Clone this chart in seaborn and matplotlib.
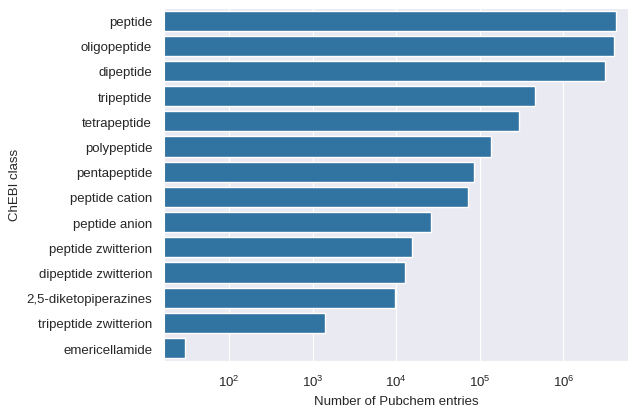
import matplotlib
matplotlib.use("Agg")
import matplotlib.pyplot as plt
import seaborn as sns
import pandas as pd

classes = ["peptide", "oligopeptide", "dipeptide", "tripeptide", "tetrapeptide",
           "polypeptide", "pentapeptide", "peptide cation", "peptide anion",
           "peptide zwitterion", "dipeptide zwitterion", "2,5-diketopiperazines",
           "tripeptide zwitterion", "emericellamide"]
counts = [4250000, 4020000, 3110000, 456000, 293000, 136000, 85000, 72400,
          26300, 15600, 12600, 9600, 1420, 30]

sns.set_style("darkgrid")
plt.rcParams['font.family'] = ['Liberation Sans', 'DejaVu Sans']
plt.rcParams['font.size'] = 9.5
plt.rcParams['axes.labelsize'] = 9.5
plt.rcParams['xtick.labelsize'] = 9.5
plt.rcParams['ytick.labelsize'] = 9.5
plt.rcParams['xtick.major.pad'] = 6.0
plt.rcParams['ytick.major.pad'] = 5.0

df = pd.DataFrame({"ChEBI class": classes, "Number of Pubchem entries": counts})

fig = plt.figure(figsize=(6.29, 4.10), dpi=100)
ax = fig.add_axes([0.2607, 0.1178, 0.7382, 0.8602])
sns.barplot(data=df, y="ChEBI class", x="Number of Pubchem entries", ax=ax, color="#1f77b4")
ax.set_xscale("log")
ax.set_xlim(16.7, 5.98e6)
fig.savefig("out.png", dpi=100)
